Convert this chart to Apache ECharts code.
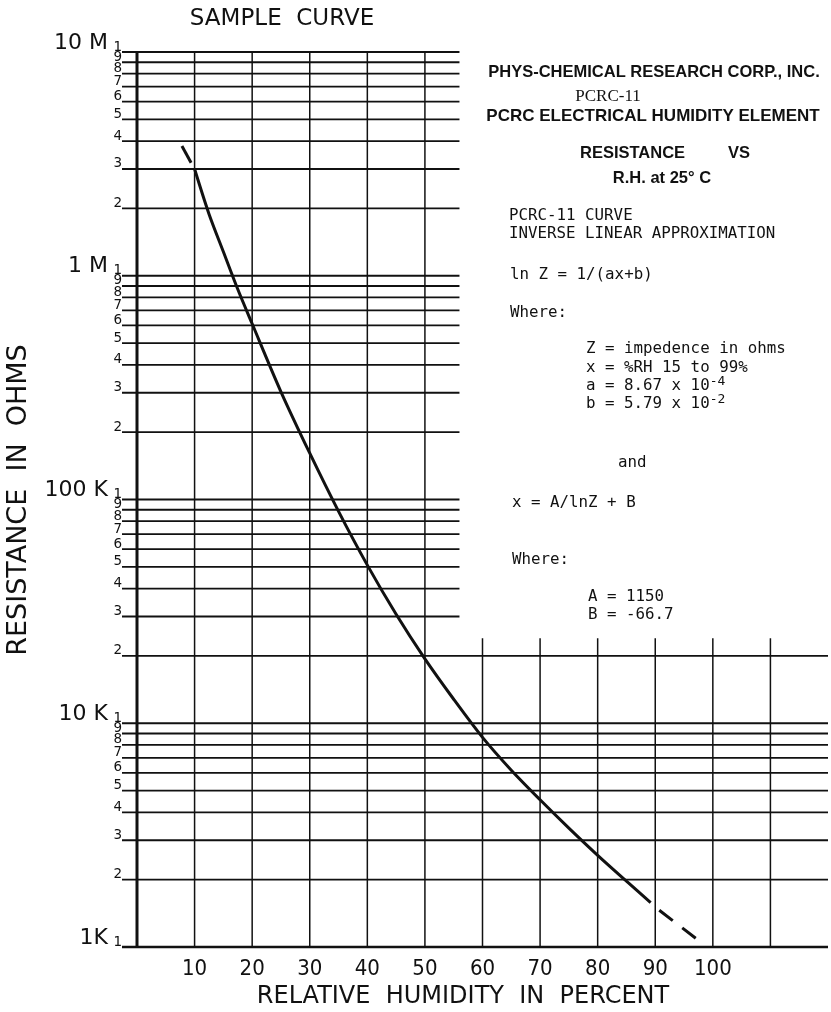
<!DOCTYPE html>
<html><head><meta charset="utf-8">
<script src="https://cdn.jsdelivr.net/npm/echarts@6/dist/echarts.min.js"></script>
<style>html,body{margin:0;padding:0;background:#fff;}#c{width:831px;height:1012px;}</style>
</head><body><div id="c"></div>
<script>
// ---------------- data ----------------
const humidityLabels = [10, 20, 30, 40, 50, 60, 70, 80, 90, 100];
const humidityGrid = [0, 10, 20, 30, 40, 50, 60, 70, 80, 90, 100, 110];
const resistanceGrid = [
  1000, 2000, 3000, 4000, 5000, 6000, 7000, 8000, 9000,
  10000, 20000, 30000, 40000, 50000, 60000, 70000, 80000, 90000,
  100000, 200000, 300000, 400000, 500000, 600000, 700000, 800000, 900000,
  1000000, 2000000, 3000000, 4000000, 5000000, 6000000, 7000000, 8000000, 9000000,
  10000000
];
const decadeValues = [1000, 10000, 100000, 1000000, 10000000];
const decadeNames = ['1K', '10 K', '100 K', '1 M', '10 M'];

// PCRC-11 curve read from the sheet (RH %, ohms)
const curveRH   = [10, 12.5, 15, 17.5, 20, 25, 30, 35, 40, 45, 50, 55, 60, 65, 70, 75, 80, 85, 89.2];
const curveOhms = [3.0e6, 1.89e6, 1.28e6, 8.7e5, 6.1e5, 3.03e5, 1.61e5, 8.85e4, 5.09e4, 3.07e4, 1.94e4, 1.28e4, 8.65e3, 6.17e3, 4.55e3, 3.4e3, 2.57e3, 1.97e3, 1.58e3];
// dashed extrapolations
const lowRH = [7.8, 10];
const lowOhms = [3.8e6, 3.0e6];
const highRH = [90.7, 97.3];
const highOhms = [1.46e3, 1.08e3];

// ---------------- layout constants ----------------
const INK = '#111';
const X_MAX = 120;
const BOX_LEFT_RH = 56;       // text panel begins here (upper right)
const BOX_FLOOR_OHMS = 20000; // rows above this stop at the panel
const VLINE_TOP_OHMS = 24000; // right-hand verticals start here
const TICK = 15;
const smallFont = "13.5px 'DejaVu Sans', sans-serif";
const decadeFont = "22px 'DejaVu Sans', sans-serif";
const mono = "'DejaVu Sans Mono', monospace";
const boldHdr = "'Liberation Sans', Arial, sans-serif";

const chart = echarts.init(document.getElementById('c'), null, {renderer: 'canvas'});

function pair(xs, ys) { return xs.map((x, i) => [x, ys[i]]); }
function monoText(x, y, t) {
  return {type: 'text', x: x, y: y, style: {text: t, font: '15.8px ' + mono, fill: INK, verticalAlign: 'middle'}};
}
function supText(x, y, base, sup) {
  return {type: 'text', x: x, y: y, style: {
    text: '{b|' + base + '}{s|' + sup + '}', verticalAlign: 'middle', fill: INK,
    rich: {b: {font: '15.8px ' + mono, lineHeight: 22, fill: INK},
           s: {font: '13px ' + mono, lineHeight: 12, verticalAlign: 'top', fill: INK}}
  }};
}

const option = {
  animation: false,
  backgroundColor: '#fff',
  grid: {left: 137, right: 0, top: 52, bottom: 65},
  xAxis: {
    type: 'value', min: 0, max: X_MAX, interval: 10,
    axisLine: {show: false}, axisTick: {show: false}, splitLine: {show: false},
    axisLabel: {
      color: INK, fontSize: 22, margin: 11,
      fontFamily: "'DejaVu Sans Condensed', 'Liberation Sans Narrow', 'DejaVu Sans', sans-serif",
      formatter: v => humidityLabels.indexOf(v) >= 0 ? String(v) : ''
    }
  },
  yAxis: {
    type: 'log', logBase: 10, min: 1000, max: 10000000,
    axisLine: {show: false}, axisTick: {show: false}, splitLine: {show: false},
    axisLabel: {show: false}
  },
  graphic: [
    {type: 'text', x: 282, y: 19, style: {text: 'SAMPLE  CURVE', font: "23px 'DejaVu Sans', sans-serif", fill: INK, align: 'center', verticalAlign: 'middle'}},
    {type: 'text', x: 19, y: 500, rotation: Math.PI / 2, style: {text: 'RESISTANCE  IN  OHMS', font: "27px 'DejaVu Sans', sans-serif", fill: INK, align: 'center', verticalAlign: 'middle'}},
    {type: 'text', x: 463, y: 997, style: {text: 'RELATIVE  HUMIDITY  IN  PERCENT', font: "24px 'DejaVu Sans', sans-serif", fill: INK, align: 'center', verticalAlign: 'middle'}},

    {type: 'text', x: 654, y: 72, style: {text: 'PHYS-CHEMICAL RESEARCH CORP., INC.', font: 'bold 16.5px ' + boldHdr, fill: INK, align: 'center', verticalAlign: 'middle'}},
    {type: 'text', x: 608, y: 97, style: {text: 'PCRC-11', font: "17px 'Liberation Serif', 'DejaVu Serif', serif", fill: INK, align: 'center', verticalAlign: 'middle'}},
    {type: 'text', x: 653, y: 116, style: {text: 'PCRC ELECTRICAL HUMIDITY ELEMENT', font: 'bold 17px ' + boldHdr, fill: INK, align: 'center', verticalAlign: 'middle'}},
    {type: 'text', x: 580, y: 153, style: {text: 'RESISTANCE', font: 'bold 16.5px ' + boldHdr, fill: INK, align: 'left', verticalAlign: 'middle'}},
    {type: 'text', x: 728, y: 153, style: {text: 'VS', font: 'bold 16.5px ' + boldHdr, fill: INK, align: 'left', verticalAlign: 'middle'}},
    {type: 'text', x: 662, y: 178, style: {text: 'R.H. at 25° C', font: 'bold 16.5px ' + boldHdr, fill: INK, align: 'center', verticalAlign: 'middle'}},

    monoText(509, 216, 'PCRC-11 CURVE'),
    monoText(509, 234, 'INVERSE LINEAR APPROXIMATION'),
    monoText(510, 275, 'ln Z = 1/(ax+b)'),
    monoText(510, 313, 'Where:'),
    monoText(586, 349, 'Z = impedence in ohms'),
    monoText(586, 368, 'x = %RH 15 to 99%'),
    supText(586, 386, 'a = 8.67 x 10', '-4'),
    supText(586, 404, 'b = 5.79 x 10', '-2'),
    monoText(618, 463, 'and'),
    monoText(512, 503, 'x = A/lnZ + B'),
    monoText(512, 560, 'Where:'),
    monoText(588, 597, 'A = 1150'),
    monoText(588, 615, 'B = -66.7')
  ],
  series: [
    { // horizontal rulings, left ticks and their labels
      type: 'custom', coordinateSystem: 'cartesian2d', silent: true, z: 1,
      encode: {x: 0, y: 1},
      data: resistanceGrid.map(v => [0, v]),
      renderItem: function (params, api) {
        const v = api.value(1);
        const start = api.coord([0, v]);
        const end = api.coord([v > BOX_FLOOR_OHMS ? BOX_LEFT_RH : X_MAX, v]);
        const exp = Math.floor(Math.log10(v) + 1e-9);
        const m = Math.round(v / Math.pow(10, exp));
        const children = [
          {type: 'line', shape: {x1: start[0] - TICK, y1: start[1], x2: end[0], y2: end[1]},
           style: {stroke: INK, lineWidth: v === 1000 ? 2.6 : 1.8}},
          {type: 'text', x: start[0] - TICK, y: start[1] + 2,
           style: {text: String(m), font: smallFont, fill: INK, align: 'right', verticalAlign: 'bottom'}}
        ];
        const di = decadeValues.indexOf(v);
        if (di >= 0) {
          children.push({type: 'text', x: start[0] - 29, y: start[1] + 2,
            style: {text: decadeNames[di], font: decadeFont, fill: INK, align: 'right', verticalAlign: 'bottom'}});
        }
        return {type: 'group', children: children};
      }
    },
    { // vertical rulings
      type: 'custom', coordinateSystem: 'cartesian2d', silent: true, z: 1,
      encode: {x: 0, y: 1},
      data: humidityGrid.map(x => [x, 1000]),
      renderItem: function (params, api) {
        const x = api.value(0);
        const top = api.coord([x, x > BOX_LEFT_RH ? VLINE_TOP_OHMS : 10000000]);
        const bot = api.coord([x, 1000]);
        return {type: 'line', shape: {x1: top[0], y1: top[1], x2: bot[0], y2: bot[1] + 1},
          style: {stroke: INK, lineWidth: x === 0 ? 3 : 1.5}};
      }
    },
    {
      type: 'line', z: 3, data: pair(curveRH, curveOhms), smooth: 0.3,
      showSymbol: false, silent: true, clip: false,
      lineStyle: {color: INK, width: 3}
    },
    {
      type: 'line', z: 3, data: pair(lowRH, lowOhms), showSymbol: false, silent: true, clip: false,
      lineStyle: {color: INK, width: 3, type: [19, 10]}
    },
    {
      type: 'line', z: 3, data: pair(highRH, highOhms), showSymbol: false, silent: true, clip: false,
      lineStyle: {color: INK, width: 3, type: [17, 12]}
    }
  ]
};
chart.setOption(option);
</script>
</body></html>
